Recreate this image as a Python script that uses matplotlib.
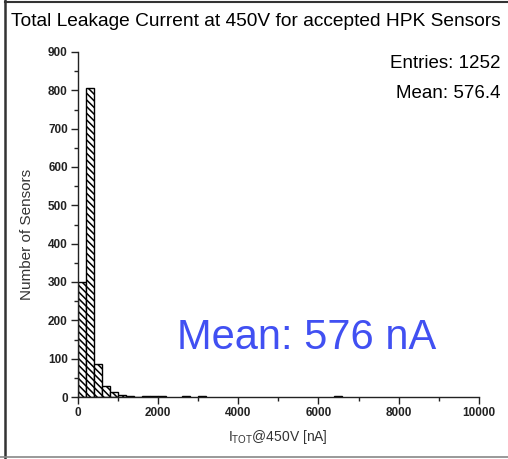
import matplotlib
matplotlib.use("Agg")
import matplotlib.pyplot as plt
from matplotlib.lines import Line2D
from matplotlib.ticker import MultipleLocator

plt.rcParams['font.family'] = ['Liberation Sans', 'DejaVu Sans']
plt.rcParams['hatch.linewidth'] = 1.1

# Histogram of total leakage current, 200 nA bins (only non-empty bins listed)
bin_low = [0, 200, 400, 600, 800, 1000, 1200, 1400, 1600, 1800, 2000, 2600, 3000, 6400]
counts = [300, 805, 85, 30, 12, 5, 2, 1, 2, 2, 2, 2, 2, 2]
bin_width = 200

title = "Total Leakage Current at 450V for accepted HPK Sensors"
stats_lines = ["Entries: 1252", "Mean: 576.4"]
mean_note = "Mean: 576 nA"
x_ticks = [0, 2000, 4000, 6000, 8000, 10000]
y_ticks = [0, 100, 200, 300, 400, 500, 600, 700, 800, 900]

fig = plt.figure(figsize=(5.08, 4.59), dpi=100)
ax = fig.add_axes([77.5 / 508, 1 - 397 / 459, (479 - 77.5) / 508, (397 - 52) / 459])

ax.bar(bin_low, counts, width=bin_width, align='edge', facecolor='white',
       edgecolor='black', linewidth=1.0, hatch='\\' * 5)

ax.set_xlim(0, 10000)
ax.set_ylim(0, 900)
ax.set_xticks(x_ticks)
ax.set_yticks(y_ticks)
ax.xaxis.set_minor_locator(MultipleLocator(1000))
ax.yaxis.set_minor_locator(MultipleLocator(50))
for s in ['top', 'right']:
    ax.spines[s].set_visible(False)
for s in ['left', 'bottom']:
    ax.spines[s].set_linewidth(1.0)
    ax.spines[s].set_color('#222222')
ax.tick_params(which='major', length=5, width=1.0, pad=2, labelsize=8.5, color='#222222')
ax.tick_params(which='minor', length=3, width=1.0, color='#222222')
for lab in ax.get_xticklabels() + ax.get_yticklabels():
    lab.set_fontweight('bold')
    lab.set_color('#222222')

ax.set_ylabel("Number of Sensors", fontsize=11, color='#333333')
ax.yaxis.set_label_coords(-0.108, 0.47)
ax.set_xlabel(r"I$_{\mathregular{TOT}}$@450V [nA]", fontsize=10, color='#333333', labelpad=7)

fig.text(0.5 * (8 + 503) / 508, 1 - 22 / 459, title, fontsize=13.8, ha='center', va='center')
fig.text(500 / 508, 1 - 64 / 459, stats_lines[0], fontsize=13.5, ha='right', va='center')
fig.text(500 / 508, 1 - 94 / 459, stats_lines[1], fontsize=13.5, ha='right', va='center')

fig.text(307 / 508, 1 - 338 / 459, mean_note, fontsize=30, color='#4150f2',
         ha='center', va='center')

# outer frame lines
fig.add_artist(Line2D([5 / 508, 5 / 508], [0, 1], transform=fig.transFigure,
                      color='#333333', linewidth=1.8))
fig.add_artist(Line2D([5 / 508, 1], [1 - 2 / 459, 1 - 2 / 459], transform=fig.transFigure,
                      color='#333333', linewidth=1.5))
fig.add_artist(Line2D([0, 1], [1 - 457 / 459, 1 - 457 / 459], transform=fig.transFigure,
                      color='#888888', linewidth=1.2))

fig.savefig("out.png", dpi=100)
